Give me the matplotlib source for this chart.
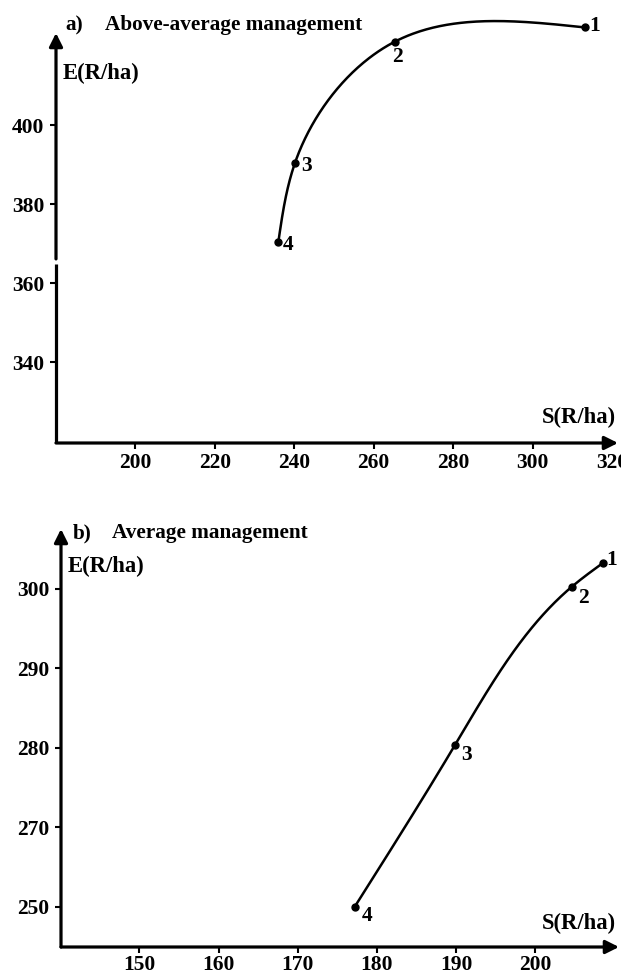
import numpy as np
import matplotlib
matplotlib.use("Agg")
import matplotlib.pyplot as plt

plt.rcParams['font.family'] = ['Liberation Serif', 'DejaVu Serif']
plt.rcParams['font.weight'] = 'bold'

# ---------------- data ----------------
# Panel a: Above-average management
a_labels = ["1", "2", "3", "4"]
a_S = [313.3, 265.3, 240.2, 236.0]
a_E = [424.7, 421.1, 390.5, 370.5]
a_xticks = [200, 220, 240, 260, 280, 300, 320]
a_yticks = [340, 360, 380, 400]

# Panel b: Average management
b_labels = ["1", "2", "3", "4"]
b_S = [208.6, 204.6, 189.9, 177.2]
b_E = [303.3, 300.25, 280.4, 250.0]
b_xticks = [150, 160, 170, 180, 190, 200]
b_yticks = [250, 270, 280, 290, 300]

FS = 15.5      # tick labels / point numbers
FS_T = 15.3    # titles
FS_AX = 16.3   # axis names
LW_AX = 2.3


def smooth_curve(ax, xs, ys, n=300):
    """Natural cubic spline through the data points, computed in display space."""
    pts = ax.transData.transform(np.column_stack([xs, ys]))
    d = np.hypot(*np.diff(pts, axis=0).T)
    t = np.concatenate([[0], np.cumsum(d)])
    N = len(t)
    h = np.diff(t)
    A = np.zeros((N, N))
    A[0, 0] = 1
    A[-1, -1] = 1
    for i in range(1, N - 1):
        A[i, i - 1] = h[i - 1]
        A[i, i] = 2 * (h[i - 1] + h[i])
        A[i, i + 1] = h[i]
    tt = np.linspace(0, t[-1], n)
    idx = np.clip(np.searchsorted(t, tt, side='right') - 1, 0, N - 2)
    out = []
    for k in range(2):
        y = pts[:, k]
        b = np.zeros(N)
        for i in range(1, N - 1):
            b[i] = 6 * ((y[i + 1] - y[i]) / h[i] - (y[i] - y[i - 1]) / h[i - 1])
        M = np.linalg.solve(A, b)
        t0 = t[idx]
        t1 = t[idx + 1]
        hh = t1 - t0
        aa = (t1 - tt) / hh
        bb = (tt - t0) / hh
        val = aa * y[idx] + bb * y[idx + 1] + ((aa ** 3 - aa) * M[idx] + (bb ** 3 - bb) * M[idx + 1]) * hh ** 2 / 6
        out.append(val)
    return ax.transData.inverted().transform(np.column_stack(out))


def arrow(ax, start, end):
    ax.annotate('', xy=end, xytext=start, xycoords='axes fraction', textcoords='axes fraction',
                arrowprops=dict(arrowstyle='-|>', lw=LW_AX, color='black', mutation_scale=20,
                                shrinkA=0, shrinkB=0), annotation_clip=False)


def style(ax, xpad):
    for s in ax.spines.values():
        s.set_visible(False)
    ax.tick_params(axis='both', direction='out', length=4.5, width=1.5, labelsize=FS, color='black')
    ax.tick_params(axis='x', pad=xpad)
    ax.tick_params(axis='y', pad=4)
    for lab in ax.get_xticklabels() + ax.get_yticklabels():
        lab.set_fontweight('bold')


fig = plt.figure(figsize=(6.21, 9.75), dpi=100)

# ---------------- panel a ----------------
axA = fig.add_axes([56 / 621, 1 - 443 / 975, (618 - 56) / 621, (443 - 33) / 975])
axA.set_xlim(180.0, 321.5)
axA.set_ylim(319.5, 423.3)
axA.set_xticks(a_xticks)
axA.set_xticklabels([str(v) for v in a_xticks])
axA.set_yticks(a_yticks)
axA.set_yticklabels([str(v) for v in a_yticks])
style(axA, 3.0)
axA.xaxis.get_major_ticks()[-1].tick1line.set_visible(False)

# axes with arrows; y-axis has a small break
arrow(axA, (0, 0), (1, 0))
gap_lo, gap_hi = 364.8, 366.1
yl = axA.get_ylim()
f_lo = (gap_lo - yl[0]) / (yl[1] - yl[0])
f_hi = (gap_hi - yl[0]) / (yl[1] - yl[0])
axA.plot([0, 0], [0, f_lo], transform=axA.transAxes, color='black', lw=LW_AX,
         clip_on=False, solid_capstyle='butt')
arrow(axA, (0, f_hi), (0, 1))

cx, cy = smooth_curve(axA, a_S, a_E).T
axA.plot(cx, cy, color='black', lw=1.8, clip_on=False)
axA.plot(a_S, a_E, 'o', color='black', ms=5, clip_on=False)
a_off = [(6.7, 0.9), (1.7, -11), (7.9, -2.4), (7.0, -2.4)]
for lab, x, y, off in zip(a_labels, a_S, a_E, a_off):
    axA.annotate(lab, (x, y), xytext=off, textcoords='offset points', ha='center', va='center',
                 fontsize=FS, fontweight='bold', annotation_clip=False)

axA.text(65 / 621, 1 - 25 / 975, 'a)', transform=fig.transFigure, fontsize=FS_T,
         fontweight='bold', ha='left', va='center')
axA.text(105 / 621, 1 - 25 / 975, 'Above-average management', transform=fig.transFigure,
         fontsize=FS_T, fontweight='bold', ha='left', va='center')
axA.text(63 / 621, 1 - 73 / 975, 'E(R/ha)', transform=fig.transFigure, fontsize=FS_AX,
         fontweight='bold', ha='left', va='center')
axA.text(616 / 621, 1 - 417 / 975, 'S(R/ha)', transform=fig.transFigure, fontsize=FS_AX,
         fontweight='bold', ha='right', va='center')

# ---------------- panel b ----------------
def fwd(e):
    e = np.asarray(e, dtype=float)
    return np.where(e < 270, 270 - (270 - e) / 2, e)


def inv(p):
    p = np.asarray(p, dtype=float)
    return np.where(p < 270, 270 - 2 * (270 - p), p)


axB = fig.add_axes([61 / 621, 1 - 947 / 975, (619 - 61) / 621, (947 - 529) / 975])
axB.set_yscale('function', functions=(fwd, inv))
axB.set_xlim(140.1, 210.6)
axB.set_ylim(239.9, 307.55)
axB.set_xticks(b_xticks)
axB.set_xticklabels([str(v) for v in b_xticks])
axB.set_yticks(b_yticks)
axB.set_yticklabels([str(v) for v in b_yticks])
axB.minorticks_off()
style(axB, 1.5)
arrow(axB, (0, 0), (1, 0))
arrow(axB, (0, 0), (0, 1))

cx, cy = smooth_curve(axB, b_S, b_E).T
axB.plot(cx, cy, color='black', lw=1.8, clip_on=False)
axB.plot(b_S, b_E, 'o', color='black', ms=5, clip_on=False)
b_off = [(5.8, 2.2), (8.3, -7.9), (7.9, -7.2), (9.1, -6.5)]
for lab, x, y, off in zip(b_labels, b_S, b_E, b_off):
    axB.annotate(lab, (x, y), xytext=off, textcoords='offset points', ha='center', va='center',
                 fontsize=FS, fontweight='bold', annotation_clip=False)

axB.text(73 / 621, 1 - 533 / 975, 'b)', transform=fig.transFigure, fontsize=FS_T,
         fontweight='bold', ha='left', va='center')
axB.text(112 / 621, 1 - 533 / 975, 'Average management', transform=fig.transFigure,
         fontsize=FS_T, fontweight='bold', ha='left', va='center')
axB.text(68 / 621, 1 - 566 / 975, 'E(R/ha)', transform=fig.transFigure, fontsize=FS_AX,
         fontweight='bold', ha='left', va='center')
axB.text(616 / 621, 1 - 923 / 975, 'S(R/ha)', transform=fig.transFigure, fontsize=FS_AX,
         fontweight='bold', ha='right', va='center')

fig.savefig('out.png', dpi=100, facecolor='white')
